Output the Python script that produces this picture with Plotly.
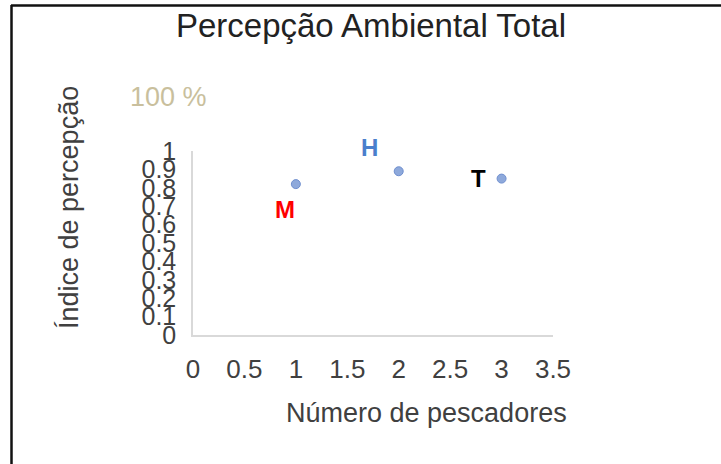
import plotly.graph_objects as go

# Data
pescadores = [1, 2, 3]
indice = [0.82, 0.89, 0.85]
grupos = ["M", "H", "T"]
grupo_cores = ["#ff0000", "#4a7fcc", "#000000"]
label_x = [0.89, 1.72, 2.78]
label_y = [0.68, 1.02, 0.85]
x_ticks = [0, 0.5, 1, 1.5, 2, 2.5, 3, 3.5]
y_ticks = [0, 0.1, 0.2, 0.3, 0.4, 0.5, 0.6, 0.7, 0.8, 0.9, 1]

W, H = 721, 464
L, R, T, B = 193, 168, 151, 129
pw, ph = W - L - R, H - T - B

def px(x):
    return (x - L) / pw

def py(y):
    return (H - B - y) / ph

font = "Liberation Sans, Arial, sans-serif"

fig = go.Figure()
fig.add_trace(go.Scatter(
    x=pescadores, y=indice, mode="markers",
    marker=dict(symbol="circle", size=9, color="#8ea9db",
                line=dict(color="#6f8fcf", width=1)),
    showlegend=False, cliponaxis=False,
))

for g, c, lx, ly in zip(grupos, grupo_cores, label_x, label_y):
    fig.add_annotation(x=lx, y=ly, xref="x", yref="paper", text=f"<b>{g}</b>",
                       showarrow=False, xanchor="center", yanchor="middle",
                       font=dict(size=24, color=c, family=font))

fig.update_layout(
    width=W, height=H,
    margin=dict(l=L, r=R, t=T, b=B, pad=0),
    paper_bgcolor="white", plot_bgcolor="white",
    font=dict(family=font, color="#404040"),
    title=dict(text="Percepção Ambiental Total", x=371 / W, xref="container",
               xanchor="center", y=1 - 25 / H, yref="container", yanchor="middle",
               font=dict(size=33, color="#222222", family=font)),
    xaxis=dict(range=[0, 3.5], tickvals=x_ticks, showgrid=False, zeroline=False,
               showline=True, linecolor="#d9d9d9", linewidth=1.5,
               ticks="", tickfont=dict(size=26, color="#404040"),
               ticklabelstandoff=10),
    yaxis=dict(range=[0, 1], tickvals=y_ticks, showgrid=False, zeroline=False,
               showline=True, linecolor="#d9d9d9", linewidth=1.5,
               ticks="", tickfont=dict(size=25, color="#404040"),
               ticklabelstandoff=10),
)

# axis titles and extra text
fig.add_annotation(x=px(426), y=py(413), xref="paper", yref="paper",
                   text="Número de pescadores", showarrow=False,
                   xanchor="center", yanchor="middle",
                   font=dict(size=27, color="#404040", family=font))
fig.add_annotation(x=px(69), y=py(208), xref="paper", yref="paper",
                   text="Índice de percepção", showarrow=False, textangle=-90,
                   xanchor="center", yanchor="middle",
                   font=dict(size=27, color="#404040", family=font))
fig.add_annotation(x=px(168), y=py(97), xref="paper", yref="paper",
                   text="100 %", showarrow=False,
                   xanchor="center", yanchor="middle",
                   font=dict(size=27, color="#c9bf9d", family=font))

# frame lines (top and left)
fig.add_shape(type="line", xref="paper", yref="paper", x0=px(11), x1=px(721),
              y0=py(5.5), y1=py(5.5), line=dict(color="#111111", width=2.5))
fig.add_shape(type="line", xref="paper", yref="paper", x0=px(11.5), x1=px(11.5),
              y0=py(5), y1=py(464), line=dict(color="#111111", width=2.5))

fig.write_html("out.html", config={"displayModeBar": False},
               post_script="document.body.style.margin='0';")
